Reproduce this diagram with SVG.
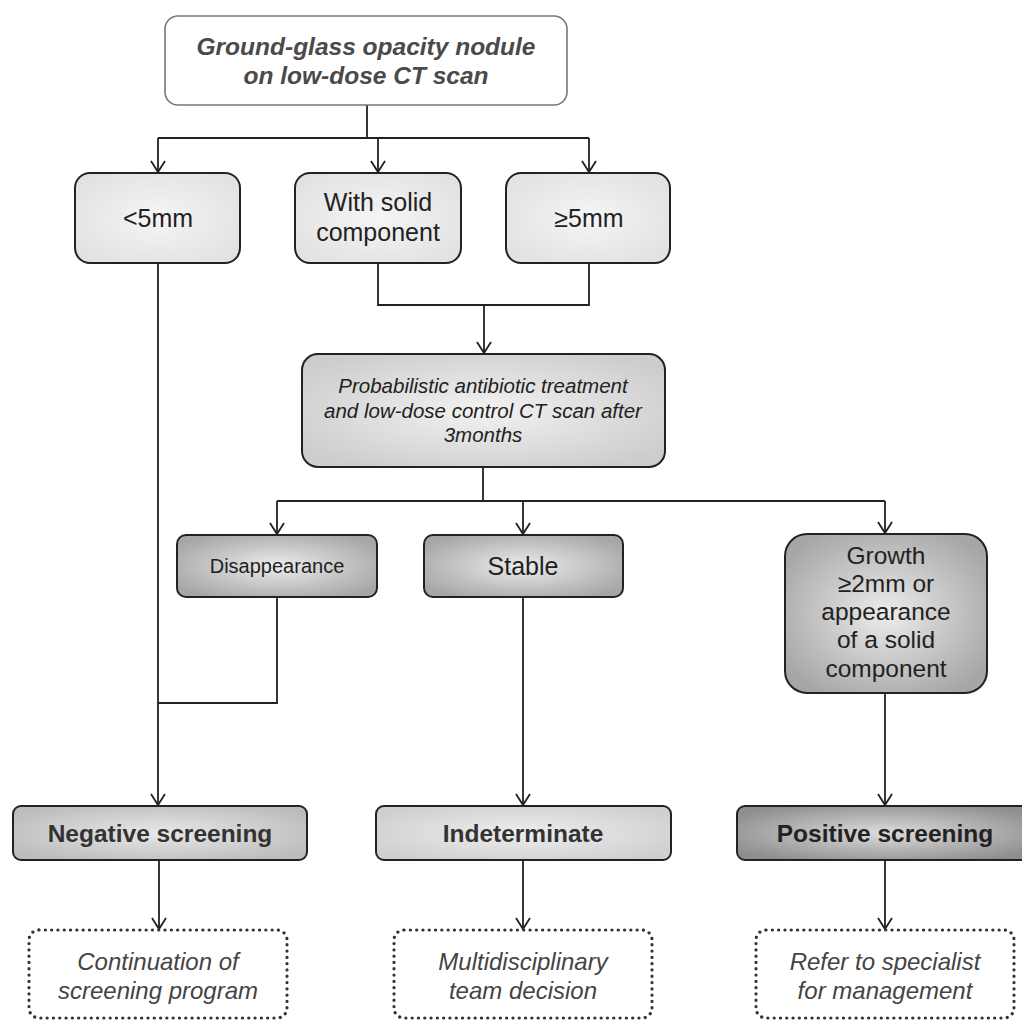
<svg xmlns="http://www.w3.org/2000/svg" width="1022" height="1021" viewBox="0 0 1022 1021">
<defs>
<radialGradient id="gL" cx="50%" cy="50%" r="60%"><stop offset="0" stop-color="#f5f5f5"/><stop offset="1" stop-color="#e2e2e2"/></radialGradient>
<radialGradient id="gM" cx="50%" cy="50%" r="60%"><stop offset="0" stop-color="#f2f2f2"/><stop offset="1" stop-color="#cdcdcd"/></radialGradient>
<radialGradient id="gD" cx="50%" cy="50%" r="60%"><stop offset="0" stop-color="#ececec"/><stop offset="1" stop-color="#a6a6a6"/></radialGradient>
<radialGradient id="gN" cx="50%" cy="50%" r="60%"><stop offset="0" stop-color="#e8e8e8"/><stop offset="1" stop-color="#bcbcbc"/></radialGradient>
<radialGradient id="gI" cx="50%" cy="50%" r="60%"><stop offset="0" stop-color="#eeeeee"/><stop offset="1" stop-color="#cfcfcf"/></radialGradient>
<radialGradient id="gP" cx="50%" cy="50%" r="60%"><stop offset="0" stop-color="#dcdcdc"/><stop offset="1" stop-color="#8e8e8e"/></radialGradient>
<marker id="arr" markerUnits="userSpaceOnUse" markerWidth="24" markerHeight="24" refX="0" refY="0" orient="auto" overflow="visible">
<path d="M-11,-7 L0,0 L-11,7" fill="none" stroke="#222" stroke-width="1.8"/>
</marker>
</defs>
<style>
.box{stroke:#222;stroke-width:2}
.dot{fill:#fff;stroke:#333;stroke-width:3.2;stroke-dasharray:0.1 6.2;stroke-linecap:round}
.t{font-family:"Liberation Sans",Arial,sans-serif;fill:#222;text-anchor:middle}
.b{fill:#333}
.g{fill:#444}
.c{fill:none;stroke:#222;stroke-width:1.8}
</style>
<rect width="1022" height="1021" fill="#fff"/>
<g id="connectors">
<path class="c" d="M367,105 V138 M158,138 H589"/>
<path class="c" d="M158,138 V172" marker-end="url(#arr)"/>
<path class="c" d="M378,138 V172" marker-end="url(#arr)"/>
<path class="c" d="M589,138 V172" marker-end="url(#arr)"/>
<path class="c" d="M378,263 V305 H589 V263"/>
<path class="c" d="M484,305 V353" marker-end="url(#arr)"/>
<path class="c" d="M483,467 V501 M277,501 H885"/>
<path class="c" d="M277,501 V534" marker-end="url(#arr)"/>
<path class="c" d="M523,501 V534" marker-end="url(#arr)"/>
<path class="c" d="M885,501 V533" marker-end="url(#arr)"/>
<path class="c" d="M158,263 V805" marker-end="url(#arr)"/>
<path class="c" d="M277,597 V703 H158"/>
<path class="c" d="M523,597 V805" marker-end="url(#arr)"/>
<path class="c" d="M885,693 V805" marker-end="url(#arr)"/>
<path class="c" d="M159,859 V929" marker-end="url(#arr)"/>
<path class="c" d="M523,859 V929" marker-end="url(#arr)"/>
<path class="c" d="M885,859 V929" marker-end="url(#arr)"/>
</g>
<g id="n-top">
<rect x="165" y="16" width="402" height="89" rx="13" fill="#fff" stroke="#777" stroke-width="1.6"/>
<text class="t" x="366" y="55" font-size="24.5" font-weight="bold" font-style="italic" style="fill:#4a4a4a">Ground-glass opacity nodule</text>
<text class="t" x="366" y="84" font-size="24.5" font-weight="bold" font-style="italic" style="fill:#4a4a4a">on low-dose CT scan</text>
</g>
<g id="n-lt5">
<rect class="box" x="75" y="173" width="165" height="90" rx="15" fill="url(#gL)"/>
<text class="t" x="158" y="227" font-size="25">&lt;5mm</text>
</g>
<g id="n-solid">
<rect class="box" x="295" y="173" width="166" height="90" rx="15" fill="url(#gL)"/>
<text class="t" x="378" y="211" font-size="25">With solid</text>
<text class="t" x="378" y="241" font-size="25">component</text>
</g>
<g id="n-ge5">
<rect class="box" x="506" y="173" width="164" height="90" rx="15" fill="url(#gL)"/>
<text class="t" x="589" y="227" font-size="25">≥5mm</text>
</g>
<g id="n-prob">
<rect class="box" x="302" y="354" width="363" height="113" rx="16" fill="url(#gM)"/>
<text class="t" x="483" y="393" font-size="20.5" font-style="italic">Probabilistic antibiotic treatment</text>
<text class="t" x="483" y="418" font-size="20.5" font-style="italic">and low-dose control CT scan after</text>
<text class="t" x="483" y="442" font-size="20.5" font-style="italic">3months</text>
</g>
<g id="n-dis">
<rect class="box" x="177" y="535" width="200" height="62" rx="9" fill="url(#gD)"/>
<text class="t" x="277" y="573" font-size="20">Disappearance</text>
</g>
<g id="n-stable">
<rect class="box" x="424" y="535" width="199" height="62" rx="9" fill="url(#gD)"/>
<text class="t" x="523" y="575" font-size="25">Stable</text>
</g>
<g id="n-growth">
<rect class="box" x="785" y="534" width="202" height="159" rx="22" fill="url(#gD)"/>
<text class="t" x="886" y="564" font-size="24.5">Growth</text>
<text class="t" x="886" y="592" font-size="24.5">≥2mm or</text>
<text class="t" x="886" y="620" font-size="24.5">appearance</text>
<text class="t" x="886" y="648" font-size="24.5">of a solid</text>
<text class="t" x="886" y="677" font-size="24.5">component</text>
</g>
<g id="n-neg">
<rect class="box" x="13" y="806" width="294" height="54" rx="8" fill="url(#gN)"/>
<text class="t b" x="160" y="842" font-size="24.5" font-weight="bold">Negative screening</text>
</g>
<g id="n-ind">
<rect class="box" x="376" y="806" width="295" height="54" rx="8" fill="url(#gI)"/>
<text class="t b" x="523" y="842" font-size="24.5" font-weight="bold">Indeterminate</text>
</g>
<g id="n-pos">
<rect class="box" x="737" y="806" width="297" height="54" rx="8" fill="url(#gP)"/>
<text class="t" x="885" y="842" font-size="24.5" font-weight="bold">Positive screening</text>
</g>
<g id="n-cont">
<rect class="dot" x="29" y="930" width="258" height="88" rx="10"/>
<text class="t g" x="158" y="970" font-size="24" font-style="italic">Continuation of</text>
<text class="t g" x="158" y="999" font-size="24" font-style="italic">screening program</text>
</g>
<g id="n-multi">
<rect class="dot" x="394" y="930" width="258" height="88" rx="10"/>
<text class="t g" x="523" y="970" font-size="24" font-style="italic">Multidisciplinary</text>
<text class="t g" x="523" y="999" font-size="24" font-style="italic">team decision</text>
</g>
<g id="n-refer">
<rect class="dot" x="756" y="930" width="258" height="88" rx="10"/>
<text class="t g" x="885" y="970" font-size="24" font-style="italic">Refer to specialist</text>
<text class="t g" x="885" y="999" font-size="24" font-style="italic">for management</text>
</g>
</svg>
